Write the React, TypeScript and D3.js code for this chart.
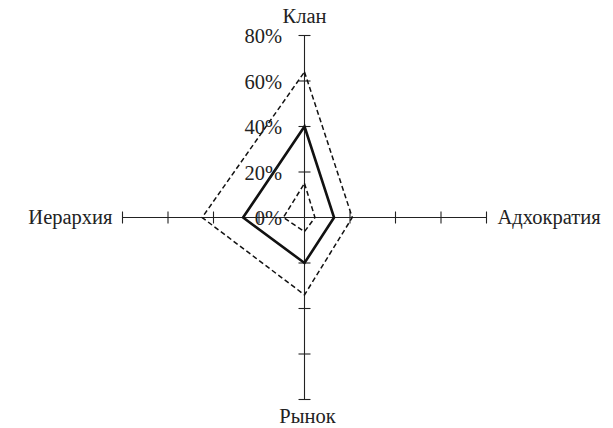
import React from "react";
import * as d3 from "d3";

// Axes of the competing-values radar, clockwise from the top
const axes = ["Клан", "Адхократия", "Рынок", "Иерархия"];
const tickValues = [0, 20, 40, 60, 80];
const tickLabels = ["0%", "20%", "40%", "60%", "80%"];

// Profiles, in the same axis order (percent)
const outerProfile = [64, 21, 34, 45];
const currentProfile = [40, 13, 20, 27];
const innerProfile = [15, 4.6, 6.2, 9.3];

const W = 613;
const H = 428;
const cx = 304.5;
const cy = 217.5;
const R = 182;

export default function App() {
  const r = d3.scaleLinear().domain([0, 80]).range([0, R]);
  // angle per axis: up, right, down, left
  const ang = (i: number) => -Math.PI / 2 + (i * Math.PI) / 2;

  const pt = (i: number, v: number): [number, number] => [
    cx + r(v) * Math.cos(ang(i)),
    cy + r(v) * Math.sin(ang(i)),
  ];

  const line = d3
    .line<[number, number]>()
    .x((d) => d[0])
    .y((d) => d[1])
    .curve(d3.curveLinearClosed);

  const poly = (vals: number[]) => line(vals.map((v, i) => pt(i, v))) || "";

  const font = "'Liberation Serif', 'Times New Roman', serif";
  const fs = 20.5;
  const tickHalf = 6;

  return (
    <svg width={W} height={H} style={{ position: "absolute", left: 0, top: 0 }}>
      <rect width={W} height={H} fill="#fff" />
      {/* axes with ticks */}
      {axes.map((a, i) => {
        const [x2, y2] = pt(i, 80);
        const th = ang(i);
        const px = -Math.sin(th);
        const py = Math.cos(th);
        return (
          <g key={a}>
            <line x1={cx} y1={cy} x2={x2} y2={y2} stroke="#222" strokeWidth={1.1} />
            {tickValues
              .filter((t) => t > 0)
              .map((t) => {
                const [tx, ty] = pt(i, t);
                return (
                  <line
                    key={t}
                    x1={tx - px * tickHalf}
                    y1={ty - py * tickHalf}
                    x2={tx + px * tickHalf}
                    y2={ty + py * tickHalf}
                    stroke="#222"
                    strokeWidth={1.1}
                  />
                );
              })}
          </g>
        );
      })}

      {/* profiles */}
      <path d={poly(outerProfile)} fill="none" stroke="#111" strokeWidth={1.5} strokeDasharray="5,3" />
      <path d={poly(innerProfile)} fill="none" stroke="#111" strokeWidth={1.5} strokeDasharray="5,3" />
      <path d={poly(currentProfile)} fill="none" stroke="#111" strokeWidth={2.6} strokeLinejoin="miter" />

      {/* radial tick labels */}
      {tickValues.map((t, k) => (
        <text
          key={t}
          x={cx - 22.5}
          y={cy - r(t) + 7.5}
          textAnchor="end"
          fontFamily={font}
          fontSize={fs}
          fill="#222"
        >
          {tickLabels[k]}
        </text>
      ))}

      {/* axis names */}
      <text x={cx} y={23} textAnchor="middle" fontFamily={font} fontSize={fs} fill="#222">
        {axes[0]}
      </text>
      <text x={cx + R + 11} y={cy + 6.5} textAnchor="start" fontFamily={font} fontSize={fs} fill="#222">
        {axes[1]}
      </text>
      <text x={cx + 3} y={423} textAnchor="middle" fontFamily={font} fontSize={fs} fill="#222">
        {axes[2]}
      </text>
      <text x={cx - R - 10} y={cy + 6.5} textAnchor="end" fontFamily={font} fontSize={fs} fill="#222">
        {axes[3]}
      </text>
    </svg>
  );
}
